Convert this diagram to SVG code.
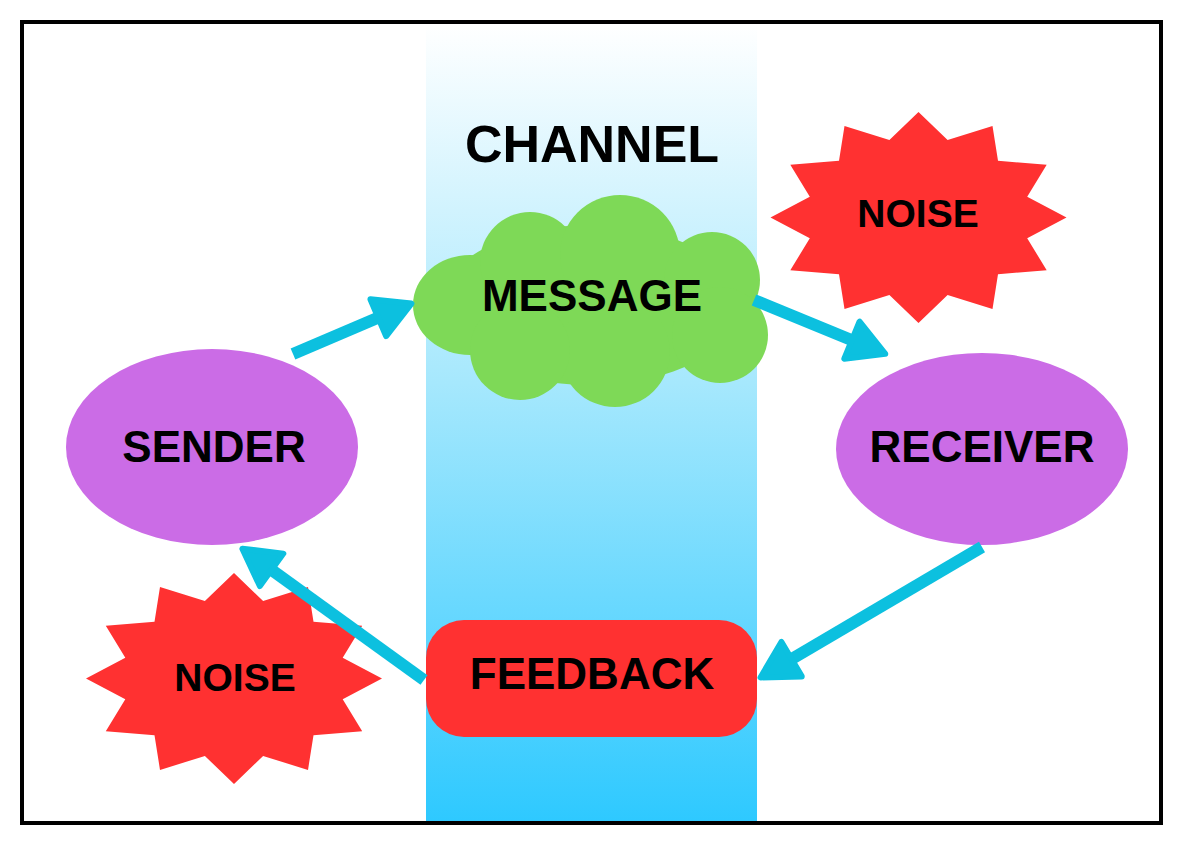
<svg xmlns="http://www.w3.org/2000/svg" width="1183" height="845" viewBox="0 0 1183 845">
<style>
.lbl{font-family:"Liberation Sans",Arial,sans-serif;font-weight:bold;fill:#000;text-anchor:middle}
.big{font-size:44px}
.noise{font-size:39px}
.conn{stroke:#0cc0df;stroke-width:12;fill:none;marker-end:url(#ah)}
</style>
<defs>
<linearGradient id="band" x1="0" y1="0" x2="0" y2="1">
<stop offset="0" stop-color="#ffffff"/>
<stop offset="0.45" stop-color="#a6e8fd"/>
<stop offset="1" stop-color="#2ec9ff"/>
</linearGradient>
<marker id="ah" markerUnits="userSpaceOnUse" markerWidth="80" markerHeight="80" refX="0" refY="0" orient="auto" overflow="visible" viewBox="-40 -40 80 80">
<path d="M30,0 L-6,-20 L-6,20 Z" fill="#0cc0df" stroke="#0cc0df" stroke-width="6" stroke-linejoin="round"/>
</marker>
<polygon id="star" points="0,-105.5 29.1,-77.5 74,-91.4 79.5,-56.7 128.2,-52.75 108.7,-20.8 148,0 108.7,20.8 128.2,52.75 79.5,56.7 74,91.4 29.1,77.5 0,105.5 -29.1,77.5 -74,91.4 -79.5,56.7 -128.2,52.75 -108.7,20.8 -148,0 -108.7,-20.8 -128.2,-52.75 -79.5,-56.7 -74,-91.4 -29.1,-77.5" fill="#ff3131"/>
</defs>
<rect x="0" y="0" width="1183" height="845" fill="#fff"/>
<g id="channel">
<rect x="426" y="24" width="331" height="797" fill="url(#band)"/>
<text class="lbl" x="592" y="162" font-size="52">CHANNEL</text>
</g>
<rect x="22" y="22" width="1139" height="801" fill="none" stroke="#000" stroke-width="4"/>
<g id="message">
<g fill="#7ed957">
<ellipse cx="590" cy="305" rx="150" ry="80"/>
<ellipse cx="470" cy="305" rx="57" ry="50"/>
<circle cx="530" cy="262" r="50"/>
<circle cx="620" cy="255" r="60"/>
<circle cx="712" cy="280" r="48"/>
<circle cx="720" cy="335" r="48"/>
<circle cx="615" cy="352" r="55"/>
<circle cx="520" cy="350" r="50"/>
</g>
<text class="lbl big" x="592" y="311">MESSAGE</text>
</g>
<g id="sender">
<ellipse cx="212" cy="447" rx="146" ry="98" fill="#cb6ce6"/>
<text class="lbl big" x="214" y="462">SENDER</text>
</g>
<g id="receiver">
<ellipse cx="982" cy="449" rx="146" ry="96" fill="#cb6ce6"/>
<text class="lbl big" x="982" y="462">RECEIVER</text>
</g>
<g id="feedback">
<rect x="426" y="620" width="331" height="117" rx="38" fill="#ff3131"/>
<text class="lbl big" x="592" y="689">FEEDBACK</text>
</g>
<g id="noise-top">
<use href="#star" transform="translate(918.5,217.5)"/>
<text class="lbl noise" x="918" y="227">NOISE</text>
</g>
<g id="noise-bottom">
<use href="#star" transform="translate(234,678.5)"/>
<text class="lbl noise" x="235" y="691">NOISE</text>
</g>
<g id="connectors">
<line class="conn" x1="293" y1="354" x2="383.8" y2="315.3"/>
<line class="conn" x1="754" y1="300" x2="857.5" y2="342.5"/>
<line class="conn" x1="982" y1="547" x2="786.4" y2="662.2"/>
<line class="conn" x1="424" y1="680" x2="266.7" y2="566.3"/>
</g>
</svg>
